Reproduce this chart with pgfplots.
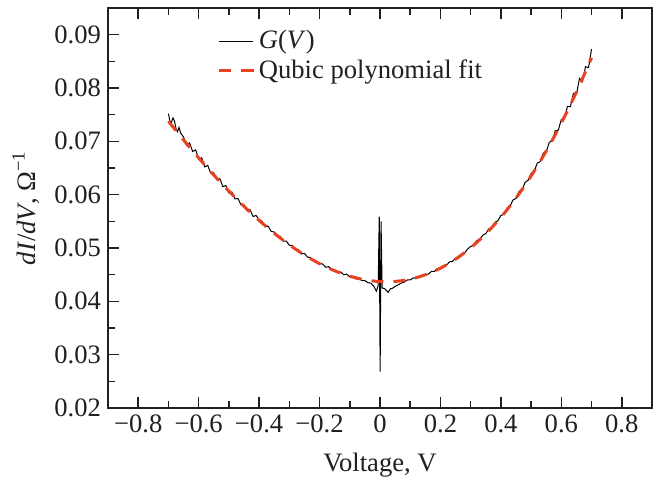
\documentclass[border=0pt]{standalone}
\usepackage{pgfplots}
\pgfplotsset{compat=1.18}
\usepackage{fontspec}
\setmainfont{Liberation Serif}
\definecolor{fitred}{RGB}{235,65,35}
\definecolor{axgray}{RGB}{35,31,32}
\begin{document}
\begin{tikzpicture}
\path[use as bounding box] (-54pt,-36pt) rectangle (274pt,204pt);
\begin{axis}[
  scale only axis, width=272pt, height=200pt,
  at={(0,0)}, anchor=south west,
  xmin=-0.9, xmax=0.9, ymin=0.02, ymax=0.095,
  xtick={-0.8,-0.6,-0.4,-0.2,0,0.2,0.4,0.6,0.8},
  xticklabels={−0.8,−0.6,−0.4,−0.2,0,0.2,0.4,0.6,0.8},
  ytick={0.02,0.03,0.04,0.05,0.06,0.07,0.08,0.09},
  yticklabels={0.02,0.03,0.04,0.05,0.06,0.07,0.08,0.09},
  minor x tick num=1, minor y tick num=1,
  tick align=inside, xtick pos=both, ytick pos=left,
  xticklabel pos=lower, yticklabel pos=left,
  major tick length=5.5pt, minor tick length=3.5pt,
  axis line style={line width=1.1pt, axgray},
  tick style={line width=0.8pt, axgray},
  font=\fontsize{13.3}{16}\selectfont,
  ticklabel style={text=axgray},
  xlabel={Voltage, V},
  ylabel={\textit{dI}/\textit{dV}, Ω\textsuperscript{−1}},
  xlabel style={at={(axis description cs:0.5,-0.1425)}, anchor=center, text=axgray},
  ylabel style={at={(axis description cs:-0.151,0.5)}, anchor=center, text=axgray},
  legend style={draw=none, fill=none, at={(rel axis cs:0.19,0.965)}, anchor=north west,
    font=\fontsize{13.3}{16}\selectfont, text=axgray},
  legend cell align=left,
]
\addplot[black, line width=0.5pt] table {
-0.70 0.0752
-0.695 0.0738
-0.69 0.0736
-0.685 0.0744
-0.68 0.0738
-0.675 0.0724
-0.67 0.0718
-0.665 0.0726
-0.66 0.0716
-0.65 0.0708
-0.64 0.0692
-0.63 0.0697
-0.62 0.0681
-0.61 0.0684
-0.60 0.0667
-0.59 0.0669
-0.58 0.0652
-0.57 0.0655
-0.56 0.0640
-0.55 0.0641
-0.54 0.0628
-0.53 0.0630
-0.52 0.0615
-0.51 0.0617
-0.50 0.0603
-0.49 0.0605
-0.48 0.0592
-0.47 0.0593
-0.46 0.0581
-0.45 0.0581
-0.44 0.0570
-0.43 0.0572
-0.42 0.0559
-0.41 0.0561
-0.40 0.0553
-0.39 0.0550
-0.38 0.0540
-0.37 0.0541
-0.36 0.0531
-0.35 0.0530
-0.34 0.0522
-0.33 0.0522
-0.32 0.0513
-0.31 0.0513
-0.30 0.0505
-0.29 0.0505
-0.28 0.0497
-0.27 0.0497
-0.26 0.0489
-0.25 0.0490
-0.24 0.0483
-0.23 0.0482
-0.22 0.0476
-0.21 0.0476
-0.20 0.0470
-0.19 0.0470
-0.18 0.0464
-0.17 0.0465
-0.16 0.0459
-0.15 0.0459
-0.14 0.0454
-0.13 0.0455
-0.12 0.0450
-0.11 0.0451
-0.10 0.0446
-0.09 0.0446
-0.08 0.0442
-0.07 0.0443
-0.06 0.0439
-0.05 0.0439
-0.04 0.0435
-0.03 0.0434
-0.02 0.0428
-0.012 0.0419
-0.006 0.0429
-0.0025 0.0559
0.0005 0.0268
0.0035 0.0550
0.007 0.0425
0.015 0.0424
0.02 0.0421
0.027 0.0417
0.035 0.0424
0.04 0.0424
0.05 0.0428
0.06 0.0431
0.07 0.0434
0.08 0.0436
0.09 0.0440
0.10 0.0440
0.11 0.0444
0.12 0.0443
0.13 0.0447
0.14 0.0447
0.15 0.0451
0.16 0.0451
0.17 0.0456
0.18 0.0456
0.19 0.0461
0.20 0.0461
0.21 0.0467
0.22 0.0468
0.23 0.0474
0.24 0.0475
0.25 0.0481
0.26 0.0482
0.27 0.0489
0.28 0.0491
0.29 0.0498
0.30 0.0503
0.31 0.0505
0.32 0.0514
0.33 0.0516
0.34 0.0524
0.35 0.0527
0.36 0.0536
0.37 0.0538
0.38 0.0548
0.39 0.0551
0.40 0.0561
0.41 0.0563
0.42 0.0575
0.43 0.0578
0.44 0.0590
0.45 0.0593
0.46 0.0606
0.47 0.0609
0.48 0.0623
0.49 0.0627
0.50 0.0640
0.51 0.0643
0.52 0.0659
0.53 0.0662
0.54 0.0678
0.55 0.0680
0.56 0.0698
0.57 0.0701
0.58 0.0720
0.59 0.0721
0.60 0.0741
0.61 0.0742
0.62 0.0765
0.63 0.0765
0.64 0.0790
0.65 0.0788
0.66 0.0818
0.67 0.0812
0.68 0.0840
0.69 0.0838
0.695 0.0856
0.70 0.0873
};
\addlegendentry{\textit{G}(\textit{V})}
\addplot[fitred, line width=1.5pt, dash pattern=on 6pt off 5pt, smooth] table {
-0.70 0.07376
-0.65 0.07026
-0.60 0.06690
-0.55 0.06369
-0.50 0.06066
-0.45 0.05781
-0.40 0.05517
-0.35 0.05276
-0.30 0.05060
-0.25 0.04869
-0.20 0.04706
-0.15 0.04573
-0.10 0.04472
-0.05 0.04403
0.00 0.04370
0.05 0.04373
0.10 0.04415
0.15 0.04498
0.20 0.04622
0.25 0.04790
0.30 0.05003
0.35 0.05265
0.40 0.05575
0.45 0.05936
0.50 0.06350
0.55 0.06818
0.60 0.07342
0.65 0.07925
0.70 0.08567
};
\addlegendentry{Qubic polynomial fit}
\end{axis}
\end{tikzpicture}
\end{document}
